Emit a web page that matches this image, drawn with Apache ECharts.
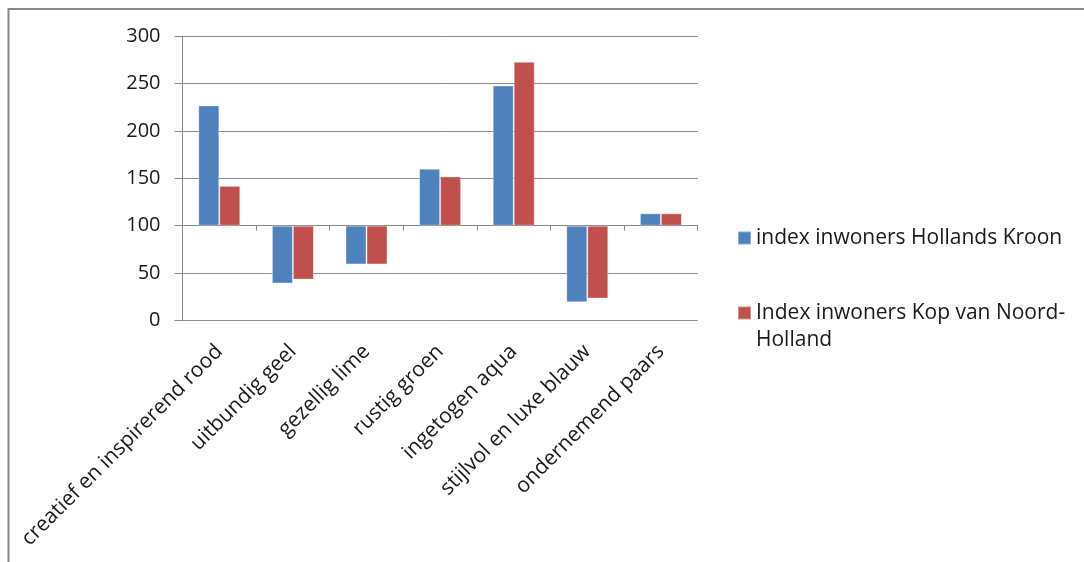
<!DOCTYPE html>
<html>
<head>
<meta charset="utf-8">
<script src="https://cdn.jsdelivr.net/npm/echarts@6/dist/echarts.min.js"></script>
<style>
  html, body { margin: 0; padding: 0; background: #fff; }
  #chart { width: 1084px; height: 562px; }
</style>
</head>
<body>
<div id="chart"></div>
<script>
// Index values per colour profile; 100 is the average, bars grow from that line.
const categories = [
  'creatief en inspirerend rood',
  'uitbundig geel',
  'gezellig lime',
  'rustig groen',
  'ingetogen aqua',
  'stijlvol en luxe blauw',
  'ondernemend paars'
];
const hollandsKroon = [227, 39, 59, 160, 248, 19, 113];
const kopNoordHolland = [142, 43, 59, 152, 273, 23, 113];
const seriesNames = ['index inwoners Hollands Kroon', 'Index inwoners Kop van Noord-Holland'];
const yTicks = [0, 50, 100, 150, 200, 250, 300];

const BASE = 100; // the category axis crosses the value axis here
const FONT = '"Open Sans", "Noto Sans", sans-serif';

// Bars are measured from BASE: the value axis is shifted so that BASE sits at 0,
// and its labels add BASE back.
const shift = arr => arr.map(v => v - BASE);

// Second legend entry wraps after the hyphen; a leading empty line keeps the
// marker level with the first text line.
const legendText = name => name === seriesNames[1]
  ? '\nIndex inwoners Kop van Noord-\nHolland'
  : name;

const chart = echarts.init(document.getElementById('chart'));
chart.setOption({
  animation: false,
  backgroundColor: '#ffffff',
  graphic: [{
    type: 'rect',
    shape: { x: 8.5, y: 9, width: 1200, height: 700 },
    style: { fill: 'none', stroke: '#8a8a8a', lineWidth: 2 },
    silent: true
  }],
  grid: {
    left: 182.5, top: 36.3, right: 386.3, bottom: 241.7,
    containLabel: false,
    outerBoundsMode: 'none'
  },
  legend: {
    orient: 'vertical',
    left: 737,
    top: 224.5,
    padding: 0,
    itemWidth: 13,
    itemHeight: 13,
    itemGap: 21,
    icon: 'rect',
    data: seriesNames,
    formatter: legendText,
    textStyle: { fontFamily: FONT, fontSize: 21, color: '#1a1a1a', lineHeight: 27 }
  },
  xAxis: {
    type: 'category',
    data: categories,
    axisLine: { onZero: true, lineStyle: { color: '#868686', width: 1 } },
    axisTick: { show: true, length: 5, lineStyle: { color: '#868686' } },
    axisLabel: {
      rotate: 45,
      margin: 28,
      interval: 0,
      fontFamily: FONT,
      fontSize: 21,
      color: '#1a1a1a'
    },
    splitLine: { show: false }
  },
  yAxis: {
    type: 'value',
    min: yTicks[0] - BASE,
    max: yTicks[yTicks.length - 1] - BASE,
    interval: yTicks[1] - yTicks[0],
    axisLine: { show: true, lineStyle: { color: '#868686' } },
    axisTick: { show: true, inside: false, length: 8, lineStyle: { color: '#868686' } },
    axisLabel: {
      formatter: v => String(v + BASE),
      margin: 22,
      fontFamily: FONT,
      fontSize: 20,
      color: '#1a1a1a'
    },
    splitLine: { show: true, lineStyle: { color: '#8c8c8c', width: 1 } }
  },
  series: [
    {
      name: seriesNames[0],
      type: 'bar',
      data: shift(hollandsKroon),
      barGap: '0%',
      barCategoryGap: '43%',
      itemStyle: { color: '#4F81BD', borderColor: 'rgba(255,255,255,0.35)', borderWidth: 1 }
    },
    {
      name: seriesNames[1],
      type: 'bar',
      data: shift(kopNoordHolland),
      barGap: '0%',
      barCategoryGap: '43%',
      itemStyle: { color: '#C0504D', borderColor: 'rgba(255,255,255,0.35)', borderWidth: 1 }
    }
  ]
});
</script>
</body>
</html>
